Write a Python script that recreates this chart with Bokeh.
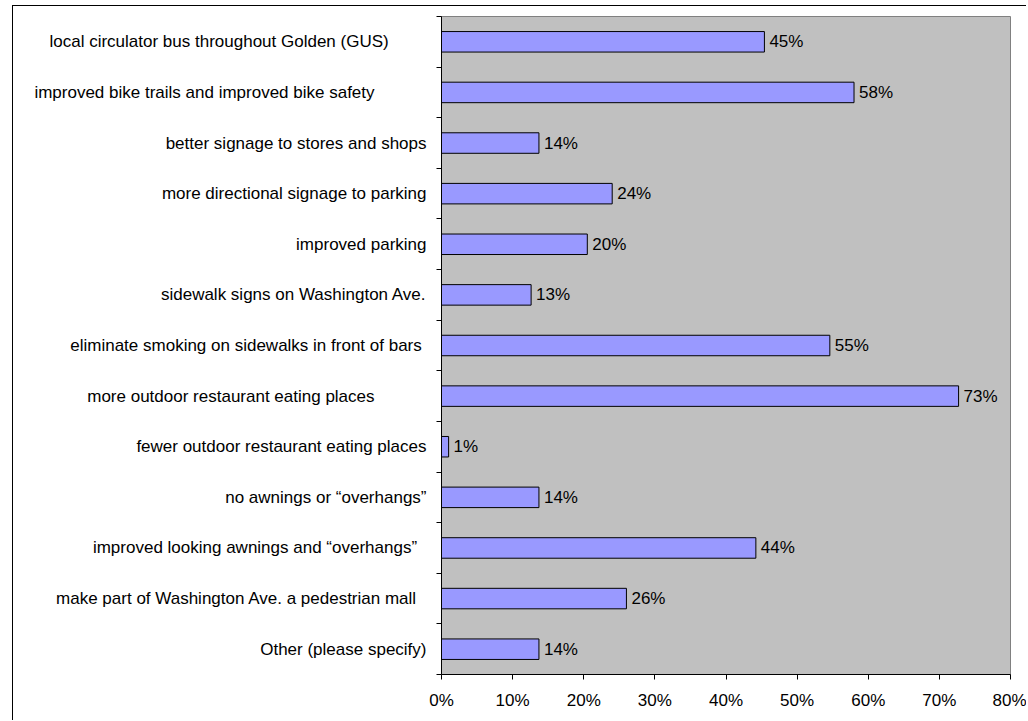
from bokeh.plotting import figure
from bokeh.models import Range1d, FixedTicker, PrintfTickFormatter, ColumnDataSource
from bokeh.core.properties import value
from bokeh.embed import file_html
from bokeh.resources import INLINE

NB = "\u00a0"
categories = [
    "local circulator bus throughout Golden (GUS)" + NB * 8,
    "improved bike trails and improved bike safety" + NB * 11,
    "better signage to stores and shops",
    "more directional signage to parking",
    "improved parking",
    "sidewalk signs on Washington Ave.",
    "eliminate smoking on sidewalks in front of bars" + NB,
    "more outdoor restaurant eating places" + NB * 11,
    "fewer outdoor restaurant eating places",
    "no awnings or \u201coverhangs\u201d",
    "improved looking awnings and \u201coverhangs\u201d" + NB * 2,
    "make part of Washington Ave. a pedestrian mall" + NB * 2,
    "Other (please specify)",
]
values = [45.4, 58.0, 13.7, 24.0, 20.5, 12.6, 54.6, 72.7, 1.0, 13.7, 44.2, 26.0, 13.7]
x_ticks = [0, 10, 20, 30, 40, 50, 60, 70, 80]

n = len(categories)
ypos = [i + 0.5 for i in range(n)]
pct = [f"{v:.0f}%" for v in values]
src = ColumnDataSource(dict(y=ypos, v=values, t=pct))

FONT = "Liberation Sans"

p = figure(width=1014, height=715, output_backend="svg", toolbar_location=None,
           x_range=Range1d(0, 80), y_range=Range1d(n, 0),
           min_border_left=428, min_border_right=17, min_border_top=10, min_border_bottom=47)
p.background_fill_color = "#C0C0C0"
p.border_fill_color = "white"
p.outline_line_color = "#808080"
p.outline_line_width = 1
p.grid.visible = False
p.styles = {"margin-left": "12px", "margin-top": "5px",
            "border-left": "1px solid #000000", "border-top": "1px solid #000000"}

p.hbar(y="y", right="v", left=0, height=0.405, source=src,
       fill_color="#9999FF", line_color="#000000", line_width=1)
p.text(x="v", y="y", text="t", source=src, x_offset=5,
       text_baseline="middle", text_align="left",
       text_font=value(FONT), text_font_size="17px", text_color="#000000")

# x axis
xa = p.xaxis[0]
xa.ticker = FixedTicker(ticks=x_ticks)
xa.formatter = PrintfTickFormatter(format="%d%%")
xa.major_tick_out = 5
xa.major_tick_in = 0
xa.minor_tick_line_color = None
xa.axis_line_color = "#000000"
xa.major_tick_line_color = "#000000"
xa.major_label_text_font = FONT
xa.major_label_text_font_size = "17px"
xa.major_label_text_color = "#000000"
xa.major_label_standoff = 11

# y axis
ya = p.yaxis[0]
ya.ticker = FixedTicker(ticks=ypos, minor_ticks=list(range(n + 1)))
ya.major_label_overrides = {y: c for y, c in zip(ypos, categories)}
ya.major_tick_out = 0
ya.major_tick_in = 0
ya.major_tick_line_color = None
ya.minor_tick_out = 5
ya.minor_tick_in = 0
ya.minor_tick_line_color = "#000000"
ya.axis_line_color = "#000000"
ya.major_label_text_font = FONT
ya.major_label_text_font_size = "17px"
ya.major_label_text_color = "#000000"
ya.major_label_standoff = 10

open("out.html", "w").write(file_html(p, INLINE))
